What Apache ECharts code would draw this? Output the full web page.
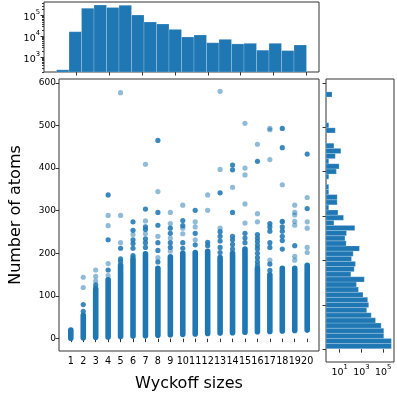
<!DOCTYPE html>
<html><head><meta charset="utf-8">
<script src="https://cdn.jsdelivr.net/npm/echarts@6/dist/echarts.min.js"></script>
<style>html,body{margin:0;padding:0;background:#fff}#c{width:397px;height:397px}</style>
</head><body><div id="c"></div>
<script>
// ---- data ----
const wyckoffSizes = [1,2,3,4,5,6,7,8,9,10,11,12,13,14,15,16,17,18,19,20];
// top marginal histogram: one bin per Wyckoff size (bins span 1..20)
const wyckoffBinStart = 1;
const wyckoffBinWidth = 0.95;
const wyckoffCounts = [250,17000,229000,325000,250000,316000,108000,50000,40000,22000,9500,11800,5000,7300,4400,4700,2200,4700,2100,3900];
// right marginal histogram: 50 bins of number of atoms, from low to high
const atomBinStart = 1;
const atomBinWidth = 11.58;
const atomCounts = [575000,575000,115000,115000,66000,20000,8100,3100,4700,3800,
  1410,536,354,1860,108,218,284,124,177,660,
  40,31,43,250,3,23,7,1,6,6,
  1,1,0,1,5,9,1,4,13,3,
  0,0,4,1,0,0,0,0,0,2];
// dense (solid) part of each column: lowest and highest number of atoms
const denseLow  = [1,2,3,4,5,6,7,8,9,10,11,12,13,14,15,16,17,18,19,20];
const denseHigh = [20,55,115,138,172,185,199,165,192,200,202,205,190,200,210,165,150,165,165,172];
// isolated points above the dense columns
const sparseLight = [
 [2,120],[2,144],[3,135],[3,146],[3,161],[4,148],[4,176],[4,265],[4,289],
 [5,225],[5,289],[5,577],[6,244],[7,276],[7,246],[7,409],[8,345],[8,240],[8,190],
 [9,296],[9,270],[9,236],[9,205],[10,313],[10,259],[10,246],[11,274],[11,262],[11,232],
 [12,337],[12,301],[13,580],[13,397],[13,259],[14,355],
 [15,505],[15,400],[15,384],[15,316],[15,271],[16,456],[16,293],[16,274],
 [17,493],[17,490],[17,420],[17,184],[18,361],[18,274],
 [19,313],[19,296],[19,290],[19,275],[19,266],[19,193],[19,184],
 [20,331],[20,274],[20,259],[20,214],[20,202]
];
const sparseDark = [
 [2,64],[2,80],[3,119],[3,126],[4,161],[4,232],[4,337],[5,181],[5,187],[5,212],
 [6,190],[6,195],[6,212],[6,223],[6,232],[6,254],[6,274],
 [7,304],[7,262],[7,256],[7,234],[7,225],[7,214],
 [8,465],[8,296],[8,266],[8,225],[8,207],[8,180],
 [9,259],[9,247],[9,225],[9,214],[10,277],[10,265],[10,225],[10,212],
 [11,301],[11,247],[11,220],[12,226],[12,218],
 [13,342],[13,251],[13,240],[13,229],[13,214],[13,202],
 [14,407],[14,396],[14,296],[14,240],[14,232],[14,221],[14,210],
 [15,247],[15,236],[15,225],
 [16,416],[16,244],[16,236],[16,228],[16,219],[16,211],[16,200],[16,190],[16,180],[16,172],
 [17,270],[17,262],[17,252],[17,225],[17,214],[17,175],[17,160],
 [18,493],[18,448],[18,275],[18,262],[18,252],[18,240],[18,230],[18,210],
 [19,218],[20,433],[20,305]
];
// ticks
const atomTicks = [0,100,200,300,400,500,600];
const topHistXTicks = [2.5,5,7.5,10,12.5,15,17.5,20];
const topLogTicks = [1000,10000,100000];
const topLogMinorTicks = [200,300,400,500,600,700,800,900,2000,3000,4000,5000,6000,7000,8000,9000,
  20000,30000,40000,50000,60000,70000,80000,90000,200000,300000,400000];
const rightLogTicks = [10,1000,100000];

// ---- styling ----
const C = '#1f77b4';
const FONT = 'DejaVu Sans';
const SPINE = '#333';
const X_RANGE = [0.05, 20.95];
const Y_RANGE = [-29, 609];
const TOP_LOG = [196, 457000];
const RIGHT_LOG = [0.56, 1000000];
const powLabel = v => '{b|10}{s|' + Math.round(Math.log10(v)) + '}';
const powRich = {
  b: {fontSize: 9.5, lineHeight: 14, verticalAlign: 'bottom', fontFamily: FONT, color: '#000'},
  s: {fontSize: 6.8, lineHeight: 14, verticalAlign: 'top', fontFamily: FONT, color: '#000'}
};

const topData = wyckoffCounts.map((c, i) => [wyckoffBinStart + i * wyckoffBinWidth, wyckoffBinStart + (i + 1) * wyckoffBinWidth, c]);
const rightData = atomCounts.map((c, i) => [atomBinStart + i * atomBinWidth, atomBinStart + (i + 1) * atomBinWidth, c]).filter(r => r[2] > 0);
const denseData = wyckoffSizes.map((x, i) => [x, denseLow[i], denseHigh[i]]);

const gridStyle = {show: true, borderColor: SPINE, borderWidth: 1, backgroundColor: 'transparent', containLabel: false};
const tick = (vals, len, inside) => ({show: true, customValues: vals, length: len || 3.5, inside: !!inside, lineStyle: {color: SPINE, width: 1}});
const lbl = extra => Object.assign({showMinLabel: true, showMaxLabel: true, hideOverlap: false}, extra);

const chart = echarts.init(document.getElementById('c'), null, {renderer: 'canvas'});
chart.setOption({
  animation: false,
  backgroundColor: '#fff',
  textStyle: {fontFamily: FONT},
  grid: [
    Object.assign({left: 44, top: 79, width: 275, height: 283}, gridStyle),
    Object.assign({left: 44, top: 2, width: 275, height: 70}, gridStyle),
    Object.assign({left: 326, top: 79, width: 68, height: 283}, gridStyle)
  ],
  xAxis: [
    {gridIndex: 0, type: 'value', min: X_RANGE[0], max: X_RANGE[1], axisLine: {show: false}, splitLine: {show: false},
     axisTick: tick(wyckoffSizes),
     axisLabel: lbl({customValues: wyckoffSizes, fontSize: 9.6, color: '#000', margin: 5, fontFamily: FONT}),
     name: 'Wyckoff sizes', nameLocation: 'middle', nameGap: 25, nameTextStyle: {fontSize: 16, color: '#000', fontFamily: FONT}},
    {gridIndex: 1, type: 'value', min: X_RANGE[0], max: X_RANGE[1], axisLine: {show: false}, splitLine: {show: false},
     axisTick: tick(topHistXTicks), axisLabel: {show: false}},
    {gridIndex: 2, type: 'log', logBase: 10, min: RIGHT_LOG[0], max: RIGHT_LOG[1], axisLine: {show: false}, splitLine: {show: false},
     axisTick: tick(rightLogTicks),
     axisLabel: lbl({customValues: rightLogTicks, formatter: powLabel, rich: powRich, margin: 2})}
  ],
  yAxis: [
    {gridIndex: 0, type: 'value', position: 'left', min: Y_RANGE[0], max: Y_RANGE[1], axisLine: {show: false}, splitLine: {show: false},
     axisTick: tick(atomTicks),
     axisLabel: lbl({customValues: atomTicks, fontSize: 9, color: '#000', margin: 3, fontFamily: FONT}),
     name: 'Number of atoms', nameLocation: 'middle', nameGap: 35, nameTextStyle: {fontSize: 16, color: '#000', fontFamily: FONT}},
    {gridIndex: 1, type: 'log', position: 'left', logBase: 10, min: TOP_LOG[0], max: TOP_LOG[1], axisLine: {show: false}, splitLine: {show: false},
     axisTick: tick(topLogTicks),
     axisLabel: lbl({customValues: topLogTicks, formatter: powLabel, rich: powRich, margin: 4})},
    {gridIndex: 2, type: 'value', position: 'left', min: Y_RANGE[0], max: Y_RANGE[1], axisLine: {show: false}, splitLine: {show: false},
     axisTick: tick(atomTicks), axisLabel: {show: false}},
    {gridIndex: 1, type: 'log', position: 'left', offset: 0, logBase: 10, min: TOP_LOG[0], max: TOP_LOG[1], axisLine: {show: false}, splitLine: {show: false},
     axisTick: tick(topLogMinorTicks, 2), axisLabel: {show: false}}
  ],
  series: [
    {type: 'custom', xAxisIndex: 0, yAxisIndex: 0, data: denseData, encode: {x: 0, y: [1, 2]},
     renderItem: (params, api) => {
       const lo = api.coord([api.value(0), api.value(1)]);
       const hi = api.coord([api.value(0), api.value(2)]);
       const w = 5.6;
       return {type: 'rect', shape: {x: lo[0] - w / 2, y: hi[1] - w / 2, width: w, height: lo[1] - hi[1] + w, r: w / 2},
               style: {fill: C}};
     }},
    {type: 'scatter', xAxisIndex: 0, yAxisIndex: 0, data: sparseLight, symbolSize: 5.2,
     itemStyle: {color: C, opacity: 0.5}},
    {type: 'scatter', xAxisIndex: 0, yAxisIndex: 0, data: sparseDark, symbolSize: 5.2,
     itemStyle: {color: C, opacity: 0.88}},
    {type: 'custom', xAxisIndex: 1, yAxisIndex: 1, data: topData, encode: {x: [0, 1], y: 2},
     renderItem: (params, api) => {
       const a = api.coord([api.value(0), api.value(2)]);
       const b = api.coord([api.value(1), TOP_LOG[0]]);
       return {type: 'rect', shape: {x: a[0], y: a[1], width: b[0] - a[0], height: b[1] - a[1]},
               style: {fill: C, stroke: 'rgba(255,255,255,0.35)', lineWidth: 0.6}};
     }},
    {type: 'custom', xAxisIndex: 2, yAxisIndex: 2, data: rightData, encode: {y: [0, 1], x: 2},
     renderItem: (params, api) => {
       const a = api.coord([RIGHT_LOG[0], api.value(1)]);
       const b = api.coord([api.value(2), api.value(0)]);
       return {type: 'rect', shape: {x: a[0], y: a[1], width: b[0] - a[0], height: b[1] - a[1]},
               style: {fill: C, stroke: 'rgba(255,255,255,0.35)', lineWidth: 0.6}};
     }}
  ]
});
</script></body></html>
